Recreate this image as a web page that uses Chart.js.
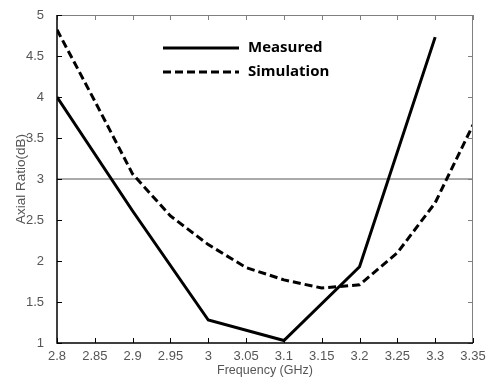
<!DOCTYPE html>
<html>
<head>
<meta charset="utf-8">
<script src="https://cdn.jsdelivr.net/npm/chart.js@4.4.0/dist/chart.umd.min.js"></script>
<style>
  html, body { margin: 0; padding: 0; background: #fff; }
  #wrap { width: 492px; height: 378px; position: relative; }
</style>
</head>
<body>
<div id="wrap"><canvas id="ar-chart"></canvas></div>
<script>
/* axial ratio vs frequency - measured / simulated */

const freqMeasured = [2.8, 2.9, 3.0, 3.1, 3.2, 3.3];
const measured     = [4.0, 2.61, 1.28, 1.03, 1.93, 4.73];

const freqSim    = [2.8, 2.85, 2.9, 2.95, 3.0, 3.05, 3.1, 3.15, 3.2, 3.25, 3.3, 3.35];
const simulation = [4.82, 3.95, 3.06, 2.55, 2.2, 1.92, 1.77, 1.67, 1.71, 2.1, 2.71, 3.66];

const xTicks = [2.8, 2.85, 2.9, 2.95, 3.0, 3.05, 3.1, 3.15, 3.2, 3.25, 3.3, 3.35];
const yTicks = [1, 1.5, 2, 2.5, 3, 3.5, 4, 4.5, 5];
const thresholdDb = 3;

const labelColor = "#555";
const toXY = (xs, ys) => xs.map((x, i) => ({ x, y: ys[i] }));

// frame + inward ticks like the original matlab plot
const framePlugin = {
  id: "frame",
  afterDraw(chart) {
    const { ctx, chartArea: a, scales } = chart;
    const tl = 5;
    ctx.save();
    ctx.lineWidth = 1;
    ctx.strokeStyle = "#808080";
    ctx.beginPath();
    ctx.moveTo(a.left, a.top + 0.5); ctx.lineTo(a.right, a.top + 0.5);
    ctx.moveTo(a.right - 0.5, a.top); ctx.lineTo(a.right - 0.5, a.bottom);
    xTicks.forEach(v => {
      const px = Math.round(scales.x.getPixelForValue(v)) + 0.5;
      ctx.moveTo(px, a.top); ctx.lineTo(px, a.top + tl);
    });
    yTicks.forEach(v => {
      const py = Math.round(scales.y.getPixelForValue(v)) + 0.5;
      ctx.moveTo(a.right, py); ctx.lineTo(a.right - tl, py);
    });
    ctx.stroke();

    ctx.strokeStyle = "#000";
    ctx.lineWidth = 1.5;
    ctx.beginPath();
    ctx.moveTo(a.left, a.top); ctx.lineTo(a.left, a.bottom); ctx.lineTo(a.right, a.bottom);
    ctx.stroke();
    ctx.lineWidth = 1;
    ctx.beginPath();
    xTicks.forEach(v => {
      const px = Math.round(scales.x.getPixelForValue(v)) + 0.5;
      ctx.moveTo(px, a.bottom); ctx.lineTo(px, a.bottom - tl);
    });
    yTicks.forEach(v => {
      const py = Math.round(scales.y.getPixelForValue(v)) + 0.5;
      ctx.moveTo(a.left, py); ctx.lineTo(a.left + tl, py);
    });
    ctx.stroke();

    // legend inside the plot
    const items = chart.data.datasets.filter(d => !d.hideLegend);
    items.forEach((ds, i) => {
      const y = 48 + i * 24;
      ctx.strokeStyle = ds.borderColor;
      ctx.lineWidth = ds.borderWidth;
      ctx.setLineDash(ds.borderDash || []);
      ctx.beginPath();
      ctx.moveTo(163, y); ctx.lineTo(239, y);
      ctx.stroke();
      ctx.setLineDash([]);
      ctx.fillStyle = "#000";
      ctx.font = "bold 15px 'Open Sans'";
      ctx.textBaseline = "middle";
      ctx.fillText(ds.label, 248, y);
    });
    ctx.restore();
  }
};

new Chart(document.getElementById("ar-chart"), {
  type: "scatter",
  data: {
    datasets: [
      {
        label: "Measured",
        data: toXY(freqMeasured, measured),
        showLine: true,
        borderColor: "#000",
        borderWidth: 3,
        pointRadius: 0
      },
      {
        label: "Simulation",
        data: toXY(freqSim, simulation),
        showLine: true,
        borderColor: "#000",
        borderWidth: 3,
        borderDash: [8, 4],
        pointRadius: 0
      },
      {
        label: "3 dB",
        hideLegend: true,
        data: [{ x: xTicks[0], y: thresholdDb }, { x: xTicks[xTicks.length - 1], y: thresholdDb }],
        showLine: true,
        borderColor: "#555",
        borderWidth: 1,
        pointRadius: 0
      }
    ]
  },
  plugins: [framePlugin],
  options: {
    responsive: true,
    maintainAspectRatio: false,
    animation: false,
    layout: { padding: { top: 15, right: 19, left: 0, bottom: 0 } },
    plugins: { legend: { display: false }, tooltip: { enabled: false } },
    scales: {
      x: {
        type: "linear",
        min: 2.8, max: 3.35,
        grid: { display: false },
        border: { display: false },
        afterBuildTicks: s => { s.ticks = xTicks.map(v => ({ value: v })); },
        afterFit: s => { s.height = 35; },
        ticks: {
          color: labelColor,
          font: { family: "'Liberation Sans', Arial", size: 13 },
          padding: -2,
          maxRotation: 0,
          callback: v => String(+v.toFixed(2))
        },
        title: {
          display: true,
          text: "Frequency (GHz)",
          color: labelColor,
          font: { family: "'Liberation Sans', Arial", size: 12.5 },
          padding: 0
        }
      },
      y: {
        min: 1, max: 5,
        grid: { display: false },
        border: { display: false },
        afterBuildTicks: s => { s.ticks = yTicks.map(v => ({ value: v })); },
        afterFit: s => { s.width = 57; },
        ticks: {
          color: labelColor,
          font: { family: "'Liberation Sans', Arial", size: 13 },
          padding: 5,
          callback: v => String(v)
        },
        title: {
          display: true,
          text: "Axial Ratio(dB)",
          color: labelColor,
          font: { family: "'Liberation Sans', Arial", size: 13.5 },
          padding: { top: 13, bottom: 0 }
        }
      }
    }
  }
});
</script>
</body>
</html>
